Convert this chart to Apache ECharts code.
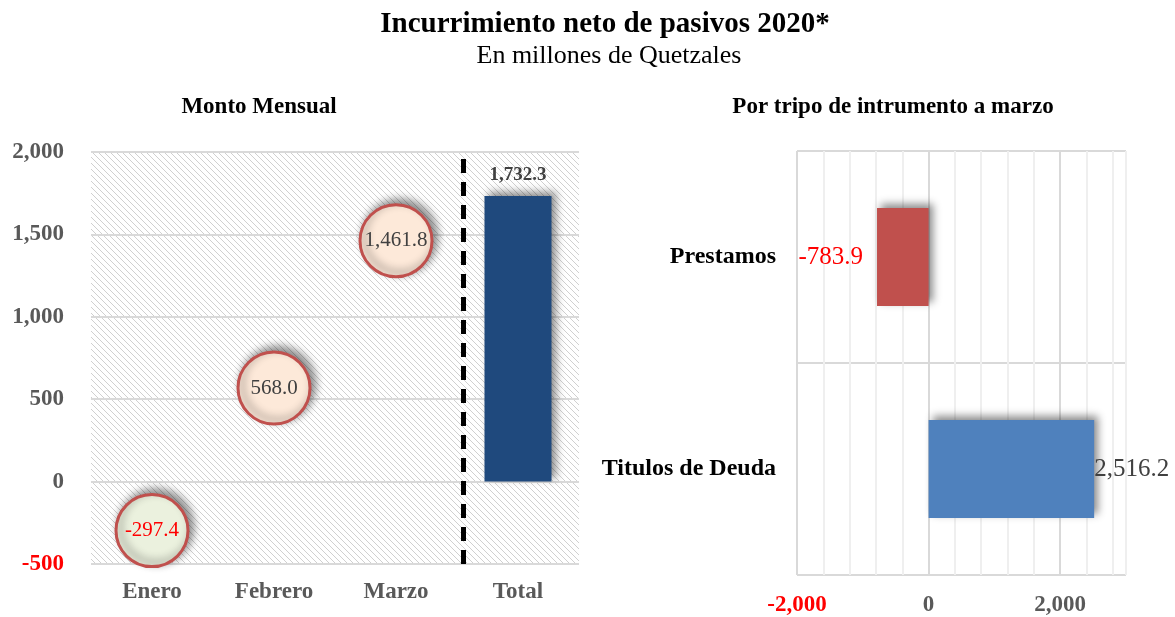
<!DOCTYPE html>
<html lang="es">
<head>
    <meta charset="UTF-8">
    <title>Incurrimiento neto de pasivos 2020</title>
    <script src="https://cdn.jsdelivr.net/npm/echarts@6.0.0/dist/echarts.min.js"></script>
    <style>
        html, body { margin: 0; padding: 0; background: #fff; }
        #chart { width: 1175px; height: 617px; }
    </style>
</head>
<body>
    <div id="chart"></div>

    <script>
        // monthly amounts (left panel)
        const months = ['Enero', 'Febrero', 'Marzo', 'Total'];
        const monthlyValues = [-297.4, 568.0, 1461.8];
        const totalValue = 1732.3;
        const leftTicks = [-500, 0, 500, 1000, 1500, 2000];

        // by instrument (right panel), bottom to top
        const instruments = ['Titulos de Deuda', 'Prestamos'];
        const instrumentValues = [2516.2, -783.9];
        const rightTicks = [-2000, 0, 2000];

        const serif = '"Liberation Serif", "Times New Roman", serif';
        const fmt = new Intl.NumberFormat('en-US', { minimumFractionDigits: 1, maximumFractionDigits: 1 });
        const fmtInt = new Intl.NumberFormat('en-US');

        // diagonal hatch for the left plot background
        function hatch() {
            const c = document.createElement('canvas');
            c.width = 6; c.height = 6;
            const ctx = c.getContext('2d');
            ctx.fillStyle = '#ffffff';
            ctx.fillRect(0, 0, 6, 6);
            ctx.strokeStyle = '#d0d0d0';
            ctx.lineWidth = 1;
            ctx.beginPath();
            ctx.moveTo(-1, -1); ctx.lineTo(7, 7);
            ctx.moveTo(-1, 5); ctx.lineTo(1, 7);
            ctx.moveTo(5, -1); ctx.lineTo(7, 1);
            ctx.stroke();
            return { image: c, repeat: 'repeat' };
        }

        const chart = echarts.init(document.getElementById('chart'));

        const bubbleData = monthlyValues.map(v => ({
            value: v,
            itemStyle: { color: v < 0 ? '#EBF1DE' : '#FDE9D9' },
            label: { color: v < 0 ? '#FF0000' : '#404040' }
        }));

        const shadow = {
            shadowColor: 'rgba(0,0,0,0.45)',
            shadowBlur: 8,
            shadowOffsetX: 4,
            shadowOffsetY: -4
        };

        // divider between the months and the total (in category units)
        const dividerAt = 3.05;

        chart.setOption({
            animation: false,
            backgroundColor: '#fff',
            title: [
                {
                    text: 'Incurrimiento neto de pasivos 2020*',
                    left: 600, top: 5, textAlign: 'center',
                    textStyle: { fontFamily: serif, fontSize: 29, fontWeight: 'bold', color: '#000' }
                },
                {
                    text: 'En millones de Quetzales',
                    left: 604, top: 38, textAlign: 'center',
                    textStyle: { fontFamily: serif, fontSize: 26, fontWeight: 'normal', color: '#000' }
                },
                {
                    text: 'Monto Mensual',
                    left: 254, top: 91, textAlign: 'center',
                    textStyle: { fontFamily: serif, fontSize: 23, fontWeight: 'bold', color: '#000' }
                },
                {
                    text: 'Por tripo de intrumento a marzo',
                    left: 888, top: 91, textAlign: 'center',
                    textStyle: { fontFamily: serif, fontSize: 23, fontWeight: 'bold', color: '#000' }
                }
            ],
            grid: [
                { left: 91, right: 596, top: 152, bottom: 53, show: true, borderWidth: 0, backgroundColor: hatch() },
                { left: 797, right: 49, top: 151, bottom: 41 }
            ],
            xAxis: [
                {
                    type: 'category', gridIndex: 0, data: months,
                    axisLine: { show: false }, axisTick: { show: false },
                    axisLabel: { margin: 17, fontFamily: serif, fontSize: 23, fontWeight: 'bold', color: '#595959' }
                },
                { type: 'value', gridIndex: 0, min: 0, max: 4, show: false },
                {
                    type: 'value', gridIndex: 1, min: -2000, max: 3000, interval: 400,
                    axisLine: { show: false }, axisTick: { show: false },
                    splitLine: { show: true, lineStyle: { color: ['#D9D9D9', '#EFEFEF', '#EFEFEF', '#EFEFEF', '#EFEFEF'], width: 2 } },
                    axisLabel: {
                        margin: 19, fontFamily: serif, fontSize: 23, fontWeight: 'bold',
                        showMaxLabel: false,
                        formatter: v => rightTicks.includes(v) ? fmtInt.format(v) : '',
                        color: v => Number(v) < 0 ? '#FF0000' : '#595959'
                    }
                }
            ],
            yAxis: [
                {
                    type: 'value', gridIndex: 0, min: leftTicks[0], max: leftTicks[leftTicks.length - 1], interval: 500,
                    axisLine: { show: false }, axisTick: { show: false },
                    splitLine: { lineStyle: { color: '#D9D9D9', width: 2 } },
                    axisLabel: {
                        margin: 27, fontFamily: serif, fontSize: 23, fontWeight: 'bold',
                        formatter: v => fmtInt.format(v),
                        color: v => Number(v) < 0 ? '#FF0000' : '#595959'
                    }
                },
                {
                    type: 'category', gridIndex: 1, data: instruments,
                    axisLine: { show: false }, axisTick: { show: false },
                    splitLine: { show: true, lineStyle: { color: '#D9D9D9', width: 2 } },
                    axisLabel: { margin: 21, fontFamily: serif, fontSize: 24, fontWeight: 'bold', color: '#000' }
                }
            ],
            series: [
                {
                    type: 'bar', xAxisIndex: 0, yAxisIndex: 0,
                    data: ['-', '-', '-', totalValue],
                    barWidth: 67,
                    itemStyle: Object.assign({ color: '#1F497D' }, shadow),
                    label: {
                        show: true, position: 'top', distance: 12,
                        fontFamily: serif, fontSize: 19, fontWeight: 'bold', color: '#404040',
                        formatter: p => fmt.format(p.value)
                    },
                    z: 3
                },
                {
                    type: 'scatter', xAxisIndex: 0, yAxisIndex: 0,
                    data: bubbleData,
                    symbolSize: 72,
                    itemStyle: Object.assign({ borderColor: '#C0504D', borderWidth: 3, opacity: 1 }, shadow),
                    label: {
                        show: true, position: 'inside',
                        fontFamily: serif, fontSize: 21,
                        formatter: p => fmt.format(p.value)
                    },
                    z: 4
                },
                {
                    type: 'scatter', xAxisIndex: 1, yAxisIndex: 0,
                    data: [[dividerAt, 0]],
                    symbolSize: 0,
                    silent: true,
                    markLine: {
                        silent: true, symbol: 'none', label: { show: false },
                        lineStyle: { color: '#000', width: 5, type: [14, 9] },
                        data: [{ xAxis: dividerAt }]
                    },
                    z: 5
                },
                {
                    type: 'bar', xAxisIndex: 2, yAxisIndex: 1,
                    barWidth: 98,
                    data: instrumentValues.map(v => ({
                        value: v,
                        itemStyle: Object.assign({ color: v < 0 ? '#C0504D' : '#4F81BD' }, shadow),
                        label: {
                            position: v < 0 ? 'left' : 'right',
                            distance: v < 0 ? 14 : 0,
                            color: v < 0 ? '#FF0000' : '#404040'
                        }
                    })),
                    label: {
                        show: true,
                        fontFamily: serif, fontSize: 25,
                        formatter: p => fmt.format(p.value)
                    }
                }
            ]
        });
    </script>
</body>
</html>
